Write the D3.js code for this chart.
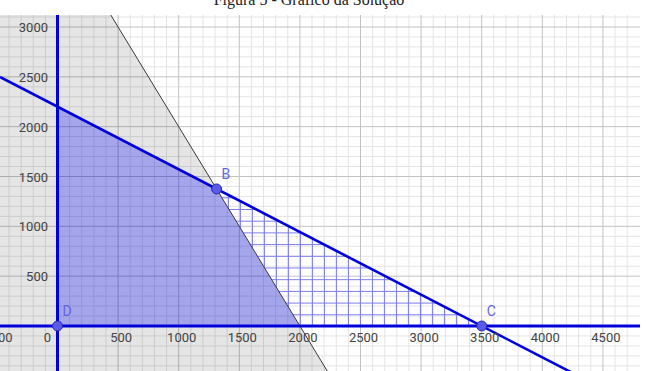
<!DOCTYPE html>
<meta charset="utf-8">
<script src="https://d3js.org/d3.v7.min.js"></script>
<style>
  body { margin: 0; background: #fff; }
</style>
<div id="grafico"></div>
<script>

    // tick labels
    var xTicks = [-500, 0, 500, 1000, 1500, 2000, 2500, 3000, 3500, 4000, 4500];
    var yTicks = [500, 1000, 1500, 2000, 2500, 3000];

    // restricoes: reta azul e reta preta (dois pontos de cada)
    var retaAzul = [[0, 2200], [3500, 0]];
    var retaPreta = [[0, 4000], [2000, 0]];

    // regiao viavel e regiao hachurada
    var regiaoViavel = [[0, 0], [0, 2200], [1312.5, 1375], [2000, 0]];
    var regiaoHachurada = [[1312.5, 1375], [2000, 0], [3500, 0]];

    // pontos nomeados
    var pontos = [
      {nome: "B", x: 1312.5, y: 1375},
      {nome: "C", x: 3500, y: 0},
      {nome: "D", x: 0, y: 0}
    ];

    var width = 646, height = 371;
    var plot = {left: 0, right: 640, top: 15, bottom: 371};

    var svg = d3.select("#grafico")
      .append("svg")
        .attr("width", width)
        .attr("height", height)
        .style("display", "block");

    var x = d3.scaleLinear().domain([0, 500]).range([57.5, 118.1]);
    var y = d3.scaleLinear().domain([0, 3000]).range([326, 27]);

    var xMin = x.invert(plot.left), xMax = x.invert(plot.right);
    var yMin = y.invert(plot.bottom), yMax = y.invert(plot.top);

    // titulo (cortado no topo)
    svg.append("text")
        .attr("x", 309)
        .attr("y", 5)
        .attr("text-anchor", "middle")
        .attr("font-family", "Liberation Serif, Times New Roman, serif")
        .attr("font-size", "16px")
        .attr("fill", "#222")
        .text("Figura 5 - Gráfico da Solução");

    var defs = svg.append("defs");
    defs.append("clipPath").attr("id", "area")
      .append("rect")
        .attr("x", plot.left).attr("y", plot.top)
        .attr("width", plot.right - plot.left).attr("height", plot.bottom - plot.top);

    var hatch = defs.append("pattern")
        .attr("id", "hachura")
        .attr("patternUnits", "userSpaceOnUse")
        .attr("x", x(2000)).attr("y", y(0))
        .attr("width", 12).attr("height", 11.7);
    hatch.append("path")
        .attr("d", "M0,0.5H12M0.5,0V11.7")
        .attr("stroke", "#7a7af0")
        .attr("stroke-width", 1)
        .attr("fill", "none");

    var g = svg.append("g").attr("clip-path", "url(#area)");

    g.append("rect")
        .attr("x", plot.left).attr("y", plot.top)
        .attr("width", plot.right - plot.left).attr("height", plot.bottom - plot.top)
        .attr("fill", "#fff");

    // grade menor e maior
    var minorX = d3.range(-600, 4800, 100), minorY = d3.range(-500, 3200, 100);
    g.append("g").selectAll("line").data(minorX.filter(function(d) { return d % 500 != 0; }))
      .enter().append("line")
        .attr("x1", function(d) { return x(d); }).attr("x2", function(d) { return x(d); })
        .attr("y1", plot.top).attr("y2", plot.bottom)
        .attr("stroke", "#e4e4e4");
    g.append("g").selectAll("line").data(minorY.filter(function(d) { return d % 500 != 0; }))
      .enter().append("line")
        .attr("y1", function(d) { return y(d); }).attr("y2", function(d) { return y(d); })
        .attr("x1", plot.left).attr("x2", plot.right)
        .attr("stroke", "#e4e4e4");
    g.append("g").selectAll("line").data(minorX.filter(function(d) { return d % 500 == 0; }))
      .enter().append("line")
        .attr("x1", function(d) { return x(d); }).attr("x2", function(d) { return x(d); })
        .attr("y1", plot.top).attr("y2", plot.bottom)
        .attr("stroke", "#c2c2c2");
    g.append("g").selectAll("line").data(minorY.filter(function(d) { return d % 500 == 0; }))
      .enter().append("line")
        .attr("y1", function(d) { return y(d); }).attr("y2", function(d) { return y(d); })
        .attr("x1", plot.left).attr("x2", plot.right)
        .attr("stroke", "#c2c2c2");

    // semiplano cinza (lado esquerdo da reta preta)
    var p0 = retaPreta[0], p1 = retaPreta[1];
    var m2 = (p1[1] - p0[1]) / (p1[0] - p0[0]);
    var xAt = function(yy) { return p0[0] + (yy - p0[1]) / m2; };
    var semiplano = [[xMin, yMax], [xAt(yMax), yMax], [xAt(yMin), yMin], [xMin, yMin]];

    var linha = d3.line()
        .x(function(d) { return x(d[0]); })
        .y(function(d) { return y(d[1]); });

    g.append("path")
        .attr("d", linha(semiplano) + "Z")
        .attr("fill", "#000")
        .attr("fill-opacity", 0.1);

    g.append("path")
        .attr("d", linha(regiaoViavel) + "Z")
        .attr("fill", "#0000ff")
        .attr("fill-opacity", 0.28);

    g.append("path")
        .attr("d", linha(regiaoHachurada) + "Z")
        .attr("fill", "url(#hachura)");

    // reta preta
    g.append("path")
        .attr("d", linha([[xAt(yMax), yMax], [xAt(yMin), yMin]]))
        .attr("stroke", "#3a3a3a")
        .attr("stroke-width", 1)
        .attr("fill", "none");

    // eixos
    g.append("line")
        .attr("x1", plot.left).attr("x2", plot.right)
        .attr("y1", y(0)).attr("y2", y(0))
        .attr("stroke", "#0000dd").attr("stroke-width", 3);
    g.append("line")
        .attr("x1", x(0)).attr("x2", x(0))
        .attr("y1", plot.top).attr("y2", plot.bottom)
        .attr("stroke", "#0000dd").attr("stroke-width", 3);

    // reta azul
    var a0 = retaAzul[0], a1 = retaAzul[1];
    var m1 = (a1[1] - a0[1]) / (a1[0] - a0[0]);
    var yAt = function(xx) { return a0[1] + (xx - a0[0]) * m1; };
    g.append("path")
        .attr("d", linha([[xMin, yAt(xMin)], [xMax, yAt(xMax)]]))
        .attr("stroke", "#0000dd")
        .attr("stroke-width", 2.6)
        .attr("fill", "none");

    // rotulos dos eixos
    svg.append("g").selectAll("text").data(xTicks)
      .enter().append("text")
        .attr("x", function(d) { return d == 0 ? x(d) - 10 : x(d) + 3; })
        .attr("y", y(0) + 16)
        .attr("text-anchor", "middle")
        .attr("font-family", "Roboto, Arial, sans-serif")
        .attr("font-size", "13px")
        .attr("fill", "#444")
        .text(function(d) { return d; });

    svg.append("g").selectAll("text").data(yTicks)
      .enter().append("text")
        .attr("x", 48)
        .attr("y", function(d) { return y(d) + 5; })
        .attr("text-anchor", "end")
        .attr("font-family", "Roboto, Arial, sans-serif")
        .attr("font-size", "13px")
        .attr("fill", "#444")
        .text(function(d) { return d; });

    // pontos
    svg.append("g").selectAll("circle").data(pontos)
      .enter().append("circle")
        .attr("cx", function(d) { return x(d.x); })
        .attr("cy", function(d) { return y(d.y); })
        .attr("r", 5)
        .attr("fill", "#5a5ae8")
        .attr("stroke", "#2828b0")
        .attr("stroke-width", 1);

    svg.append("g").selectAll("text").data(pontos)
      .enter().append("text")
        .attr("x", function(d) { return x(d.x) + 5; })
        .attr("y", function(d) { return y(d.y) - 10; })
        .attr("font-family", "Roboto, Arial, sans-serif")
        .attr("font-size", "14px")
        .attr("fill", "#6464e6")
        .text(function(d) { return d.nome; });

</script>
